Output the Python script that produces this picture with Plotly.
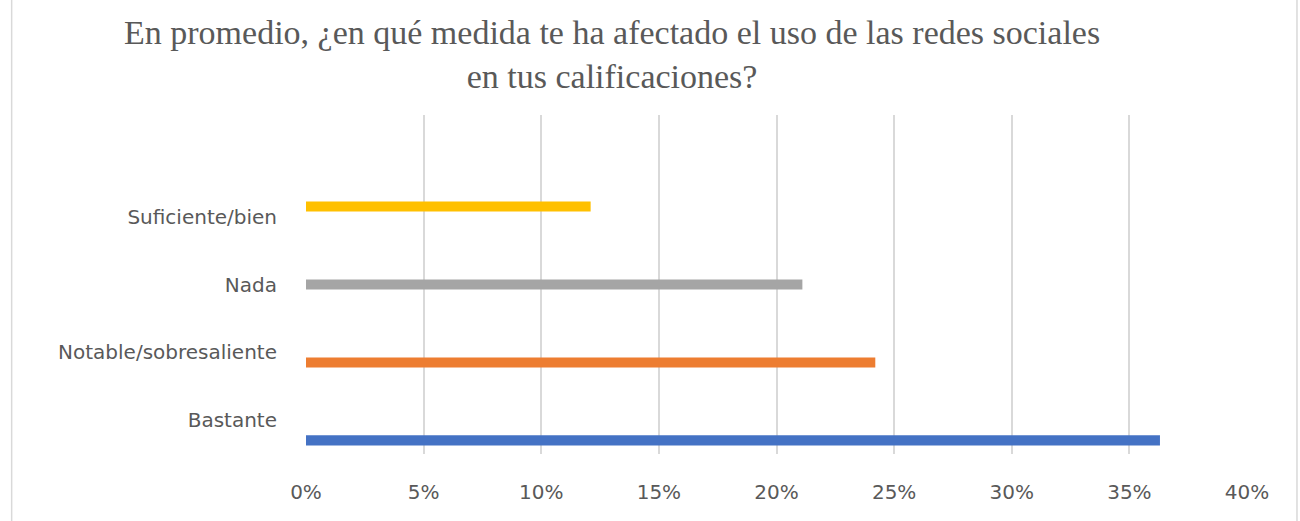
import plotly.graph_objects as go

categories = ["Bastante", "Notable/sobresaliente", "Nada", "Suficiente/bien"]
values = [0.363, 0.242, 0.211, 0.121]
colors = ["#4472C4", "#ED7D31", "#A5A5A5", "#FFC000"]
x_ticks = [0, 0.05, 0.10, 0.15, 0.20, 0.25, 0.30, 0.35, 0.40]
x_tick_labels = ["0%", "5%", "10%", "15%", "20%", "25%", "30%", "35%", "40%"]
title_text = "En promedio, ¿en qué medida te ha afectado el uso de las redes sociales<br>en tus calificaciones?"

W, H = 1300, 521
ML, MR, MT, MB = 305.5, 53, 115, 67
PW, PH = W - ML - MR, H - MT - MB

def px_x(px):
    return (px - ML) / PW

def px_y(py):
    return (H - MB - py) / PH

bar_w = 0.15
centers = [-0.30, -0.15, 0.0, 0.15]

tick_font = dict(family="DejaVu Sans, sans-serif", size=20, color="#595959")

fig = go.Figure()
for cat, val, col, c in zip(categories, values, colors, centers):
    fig.add_trace(go.Bar(
        y=[cat], x=[val], orientation="h",
        marker=dict(color=col, line=dict(width=0)),
        width=bar_w, offset=c - bar_w / 2,
        showlegend=False, hoverinfo="x+y",
    ))

fig.update_layout(
    width=W, height=H,
    margin=dict(l=ML, r=MR, t=MT, b=MB, pad=0),
    paper_bgcolor="white", plot_bgcolor="white",
    barmode="overlay",
    xaxis=dict(
        range=[0, 0.40], tickvals=x_ticks, ticktext=x_tick_labels,
        showgrid=True, gridcolor="#D9D9D9", gridwidth=1.5,
        zeroline=False, showline=False,
        ticks="outside", ticklen=20, tickcolor="rgba(0,0,0,0)",
        tickfont=tick_font,
        fixedrange=True,
    ),
    yaxis=dict(
        type="category", categoryorder="array", categoryarray=categories,
        range=[-0.5, 4.5],
        showgrid=False, zeroline=False, showline=False,
        ticks="outside", ticklen=24, tickcolor="rgba(0,0,0,0)",
        tickfont=tick_font,
        fixedrange=True,
    ),
    annotations=[dict(
        text=title_text, xref="paper", yref="paper",
        x=px_x(612), y=px_y(54), xanchor="center", yanchor="middle",
        showarrow=False, align="center",
        font=dict(family="Liberation Serif, serif", size=34, color="#595959"),
    )],
    shapes=[
        dict(type="line", xref="paper", yref="paper",
             x0=px_x(11), x1=px_x(11), y0=px_y(0), y1=px_y(H),
             line=dict(color="#D9D9D9", width=1.5)),
        dict(type="line", xref="paper", yref="paper",
             x0=px_x(1297), x1=px_x(1297), y0=px_y(0), y1=px_y(H),
             line=dict(color="#D9D9D9", width=1.5)),
    ],
)

fig.write_html(
    "out.html",
    config={"displayModeBar": False},
    post_script="document.body.style.margin='0';document.body.style.overflow='hidden';",
)
